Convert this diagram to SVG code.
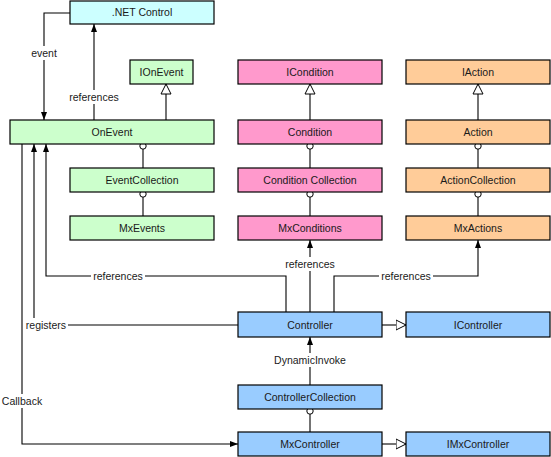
<svg xmlns="http://www.w3.org/2000/svg" width="551" height="457" viewBox="0 0 551 457">
<style>
.box{stroke:#000;stroke-width:1.2}
.net{fill:#ccffff}.grn{fill:#ccffcc}.pnk{fill:#ff99cc}.org{fill:#ffcc99}.blu{fill:#99ccff}
text{font-family:"Liberation Sans",Arial,sans-serif;font-size:10.5px;fill:#1a1a1a;text-anchor:middle}
.ln{fill:none;stroke:#000;stroke-width:1.1}
.arr{marker-end:url(#arr)}
.inh{marker-end:url(#inh)}
.bg{fill:#fff}
.dot{fill:#fff;stroke:#000;stroke-width:1}
</style>
<defs>
<marker id="arr" viewBox="0 0 8 8" refX="8" refY="4" markerWidth="8" markerHeight="8" orient="auto" markerUnits="userSpaceOnUse"><path d="M0,1 L8,4 L0,7 z" fill="#000"/></marker>
<marker id="inh" viewBox="0 0 11 12" refX="10.5" refY="6" markerWidth="11" markerHeight="12" orient="auto" markerUnits="userSpaceOnUse"><path d="M0.5,1 L10.5,6 L0.5,11 z" fill="#fff" stroke="#000" stroke-width="1"/></marker>
</defs>
<g id="connectors">
<path class="ln arr" d="M70,13 H44 V120"/>
<path class="ln arr" d="M94,120 V24"/>
<path class="ln inh" d="M166,120 V84"/>
<path class="ln" d="M143,148 V168"/>
<path class="ln" d="M143,196 V216"/>
<path class="ln inh" d="M310,120 V84"/>
<path class="ln" d="M310,148 V168"/>
<path class="ln" d="M310,196 V216"/>
<path class="ln inh" d="M478,120 V84"/>
<path class="ln" d="M478,148 V168"/>
<path class="ln" d="M478,196 V216"/>
<path class="ln arr" d="M310,312 V240"/>
<path class="ln arr" d="M334,312 V276 H478 V240"/>
<path class="ln arr" d="M286,312 V276 H46 V144"/>
<path class="ln arr" d="M238,325 H34 V144"/>
<path class="ln arr" d="M22,144 V444 H238"/>
<path class="ln inh" d="M382,325 H406"/>
<path class="ln inh" d="M382,444 H406"/>
<path class="ln arr" d="M310,385 V337"/>
<path class="ln" d="M310,413 V432"/>
<circle class="dot" cx="143" cy="146" r="3.2"/>
<circle class="dot" cx="143" cy="194" r="3.2"/>
<circle class="dot" cx="310" cy="146" r="3.2"/>
<circle class="dot" cx="310" cy="194" r="3.2"/>
<circle class="dot" cx="478" cy="146" r="3.2"/>
<circle class="dot" cx="478" cy="194" r="3.2"/>
<circle class="dot" cx="310" cy="411" r="3.2"/>
<rect class="bg" x="29" y="46" width="30" height="14"/><text x="44" y="57">event</text>
<rect class="bg" x="67" y="90" width="54" height="14"/><text x="94" y="101">references</text>
<rect class="bg" x="91" y="269" width="54" height="14"/><text x="118" y="280">references</text>
<rect class="bg" x="283" y="257" width="54" height="14"/><text x="310" y="268">references</text>
<rect class="bg" x="379" y="269" width="54" height="14"/><text x="406" y="280">references</text>
<rect class="bg" x="24" y="318" width="44" height="14"/><text x="46" y="329">registers</text>
<rect class="bg" x="1" y="394" width="42" height="14"/><text x="22" y="405">Callback</text>
<rect class="bg" x="270" y="353" width="80" height="14"/><text x="310" y="364">DynamicInvoke</text>
</g>
<g id="net-control"><rect class="box net" x="70" y="1" width="144" height="23"/><text x="142" y="16">.NET Control</text></g>
<g id="ionevent"><rect class="box grn" x="130" y="60" width="63" height="24"/><text x="161.5" y="76">IOnEvent</text></g>
<g id="onevent"><rect class="box grn" x="10" y="120" width="204" height="24"/><text x="112" y="136">OnEvent</text></g>
<g id="eventcollection"><rect class="box grn" x="70" y="168" width="144" height="24"/><text x="142" y="184">EventCollection</text></g>
<g id="mxevents"><rect class="box grn" x="70" y="216" width="144" height="24"/><text x="142" y="232">MxEvents</text></g>
<g id="icondition"><rect class="box pnk" x="238" y="60" width="144" height="24"/><text x="310" y="76">ICondition</text></g>
<g id="condition"><rect class="box pnk" x="238" y="120" width="144" height="24"/><text x="310" y="136">Condition</text></g>
<g id="conditioncollection"><rect class="box pnk" x="238" y="168" width="144" height="24"/><text x="310" y="184">Condition Collection</text></g>
<g id="mxconditions"><rect class="box pnk" x="238" y="216" width="144" height="24"/><text x="310" y="232">MxConditions</text></g>
<g id="iaction"><rect class="box org" x="406" y="60" width="144" height="24"/><text x="478" y="76">IAction</text></g>
<g id="action"><rect class="box org" x="406" y="120" width="144" height="24"/><text x="478" y="136">Action</text></g>
<g id="actioncollection"><rect class="box org" x="406" y="168" width="144" height="24"/><text x="478" y="184">ActionCollection</text></g>
<g id="mxactions"><rect class="box org" x="406" y="216" width="144" height="24"/><text x="478" y="232">MxActions</text></g>
<g id="controller"><rect class="box blu" x="238" y="312" width="144" height="25"/><text x="310" y="328.5">Controller</text></g>
<g id="icontroller"><rect class="box blu" x="406" y="312" width="144" height="25"/><text x="478" y="328.5">IController</text></g>
<g id="controllercollection"><rect class="box blu" x="238" y="385" width="144" height="24"/><text x="310" y="401">ControllerCollection</text></g>
<g id="mxcontroller"><rect class="box blu" x="238" y="432" width="144" height="24"/><text x="310" y="448">MxController</text></g>
<g id="imxcontroller"><rect class="box blu" x="406" y="432" width="144" height="24"/><text x="478" y="448">IMxController</text></g>
</svg>
